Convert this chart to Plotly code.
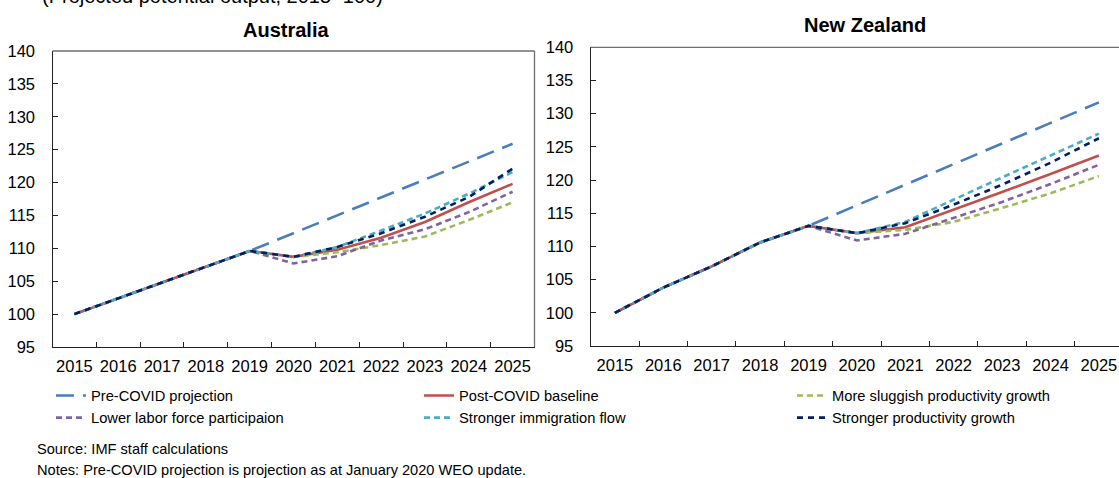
import plotly.graph_objects as go

# ---------------- data ----------------
years = ["2015", "2016", "2017", "2018", "2019", "2020", "2021", "2022", "2023", "2024", "2025"]

series_names = [
    "Pre-COVID projection",
    "Post-COVID baseline",
    "More sluggish productivity growth",
    "Lower labor force participaion",
    "Stronger immigration flow",
    "Stronger productivity growth",
]

aus_pre = [100, 102.4, 104.8, 107.2, 109.6, 112.3, 115.0, 117.7, 120.4, 123.1, 125.9]
aus_post = [100, 102.4, 104.8, 107.2, 109.6, 108.7, 109.8, 111.6, 114.0, 117.0, 119.8]
aus_slug = [100, 102.4, 104.8, 107.2, 109.6, 108.7, 109.4, 110.5, 111.8, 114.3, 117.0]
aus_labor = [100, 102.4, 104.8, 107.2, 109.6, 107.7, 108.8, 111.2, 112.9, 115.5, 118.6]
aus_immig = [100, 102.4, 104.8, 107.2, 109.6, 108.7, 110.2, 112.7, 115.3, 118.3, 121.6]
aus_prod = [100, 102.4, 104.8, 107.2, 109.6, 108.7, 110.2, 112.3, 114.8, 117.8, 122.1]

nz_pre = [100, 103.8, 107.0, 110.6, 113.1, 116.2, 119.2, 122.3, 125.4, 128.5, 131.7]
nz_post = [100, 103.8, 107.0, 110.6, 113.1, 112.0, 112.9, 115.5, 118.2, 120.9, 123.7]
nz_slug = [100, 103.8, 107.0, 110.6, 113.1, 112.0, 112.5, 113.7, 115.8, 118.0, 120.6]
nz_labor = [100, 103.8, 107.0, 110.6, 113.1, 110.9, 111.9, 114.3, 116.7, 119.4, 122.3]
nz_immig = [100, 103.8, 107.0, 110.6, 113.1, 112.0, 113.7, 117.1, 120.4, 123.7, 127.0]
nz_prod = [100, 103.8, 107.0, 110.6, 113.1, 112.0, 113.5, 116.3, 119.3, 122.6, 126.3]

y_ticks = [95, 100, 105, 110, 115, 120, 125, 130, 135, 140]

# ---------------- styles ----------------
colors = ["#4a7ebb", "#c0504d", "#9bbb59", "#8064a2", "#4bacc6", "#002060"]
dashes = ["18px,9px", "solid", "6px,4px", "6px,4px", "6px,4px", "6px,5px"]
legend_ids = ["legend", "legend2", "legend3", "legend", "legend2", "legend3"]
FONT = "Liberation Sans, Arial, sans-serif"

W, H = 1119, 478

def px_x(p):
    return p / W

def px_y(p):
    return 1 - p / H

fig = go.Figure()

aus = [aus_pre, aus_post, aus_slug, aus_labor, aus_immig, aus_prod]
nz = [nz_pre, nz_post, nz_slug, nz_labor, nz_immig, nz_prod]

for i, name in enumerate(series_names):
    fig.add_trace(go.Scatter(
        x=years, y=aus[i], name=name, mode="lines",
        line=dict(color=colors[i], width=2.6, dash=dashes[i]),
        xaxis="x", yaxis="y", legend=legend_ids[i], showlegend=True,
    ))
for i, name in enumerate(series_names):
    fig.add_trace(go.Scatter(
        x=years, y=nz[i], name=name, mode="lines",
        line=dict(color=colors[i], width=2.6, dash=dashes[i]),
        xaxis="x2", yaxis="y2", showlegend=False,
    ))

# geometry (pixels)
aus_l, aus_r, aus_t, aus_b = 52.5, 534.5, 51, 347
nz_l, nz_t, nz_b = 590.7, 47.3, 346
nz_span = (W - nz_l) / 48.4  # visible number of category slots

axis_common = dict(
    showgrid=False, zeroline=False, showline=True, linecolor="#222222", linewidth=1.3,
    ticks="inside", ticklen=5, tickcolor="#222222", tickwidth=1.2, automargin=False,
    tickfont=dict(family=FONT, size=16.5, color="#000000"),
)

fig.update_layout(
    width=W, height=H,
    margin=dict(l=0, r=0, t=0, b=0, autoexpand=False),
    paper_bgcolor="white", plot_bgcolor="white",
    font=dict(family=FONT, color="#000000"),
    xaxis=dict(axis_common, type="category", domain=[px_x(aus_l), px_x(aus_r)],
               anchor="y", tickson="boundaries", range=[-0.5, 10.5],
               tickangle=0, ticklabelstandoff=4),
    yaxis=dict(axis_common, domain=[px_y(aus_b), px_y(aus_t)], anchor="x",
               range=[95, 140], tickvals=y_ticks, ticklabelstandoff=13),
    xaxis2=dict(axis_common, type="category", domain=[px_x(nz_l), 1.0],
                anchor="y2", tickson="boundaries", range=[-0.5, nz_span - 0.5],
                tickangle=0, ticklabelstandoff=4),
    yaxis2=dict(axis_common, domain=[px_y(nz_b), px_y(nz_t)], anchor="x2",
                range=[95, 140], tickvals=y_ticks, ticklabelstandoff=13),
    showlegend=True,
)

leg_common = dict(
    orientation="v", xanchor="left", yanchor="top",
    font=dict(family=FONT, size=14.7, color="#000000"),
    bgcolor="rgba(0,0,0,0)", borderwidth=0, itemwidth=30,
    tracegroupgap=0,
)
leg_top = px_y(379.5)
fig.update_layout(
    legend=dict(leg_common, x=px_x(51), y=leg_top),
    legend2=dict(leg_common, x=px_x(419), y=leg_top),
    legend3=dict(leg_common, x=px_x(792), y=leg_top),
)

# borders (top / right) drawn as thin gray lines
fig.add_shape(type="line", xref="paper", yref="paper",
              x0=px_x(aus_l), x1=px_x(aus_r), y0=px_y(aus_t), y1=px_y(aus_t),
              line=dict(color="#6e6e6e", width=1.3))
fig.add_shape(type="line", xref="paper", yref="paper",
              x0=px_x(aus_r), x1=px_x(aus_r), y0=px_y(aus_b), y1=px_y(aus_t),
              line=dict(color="#6e6e6e", width=1.3))
fig.add_shape(type="line", xref="paper", yref="paper",
              x0=px_x(nz_l), x1=1.0, y0=px_y(nz_t), y1=px_y(nz_t),
              line=dict(color="#6e6e6e", width=1.3))

# titles and notes
fig.add_annotation(text="(Projected potential output, 2015=100)", xref="paper", yref="paper",
                   x=px_x(40), y=px_y(-4), xanchor="left", yanchor="middle",
                   showarrow=False, font=dict(family=FONT, size=20, color="#000000"))
fig.add_annotation(text="<b>Australia</b>", xref="paper", yref="paper",
                   x=px_x(285.5), y=px_y(30), xanchor="center", yanchor="middle",
                   showarrow=False, font=dict(family=FONT, size=20, color="#000000"))
fig.add_annotation(text="<b>New Zealand</b>", xref="paper", yref="paper",
                   x=px_x(865), y=px_y(25), xanchor="center", yanchor="middle",
                   showarrow=False, font=dict(family=FONT, size=20, color="#000000"))
fig.add_annotation(text="Source: IMF staff calculations", xref="paper", yref="paper",
                   x=px_x(34.5), y=px_y(449), xanchor="left", yanchor="middle",
                   showarrow=False, font=dict(family=FONT, size=14.6, color="#000000"))
fig.add_annotation(text="Notes: Pre-COVID projection is projection as at January 2020 WEO update.",
                   xref="paper", yref="paper",
                   x=px_x(34.5), y=px_y(469.5), xanchor="left", yanchor="middle",
                   showarrow=False, font=dict(family=FONT, size=14.6, color="#000000"))

fig.write_html(
    "out.html",
    config={"displayModeBar": False},
    post_script="document.body.style.margin='0';document.body.style.overflow='hidden';",
)
